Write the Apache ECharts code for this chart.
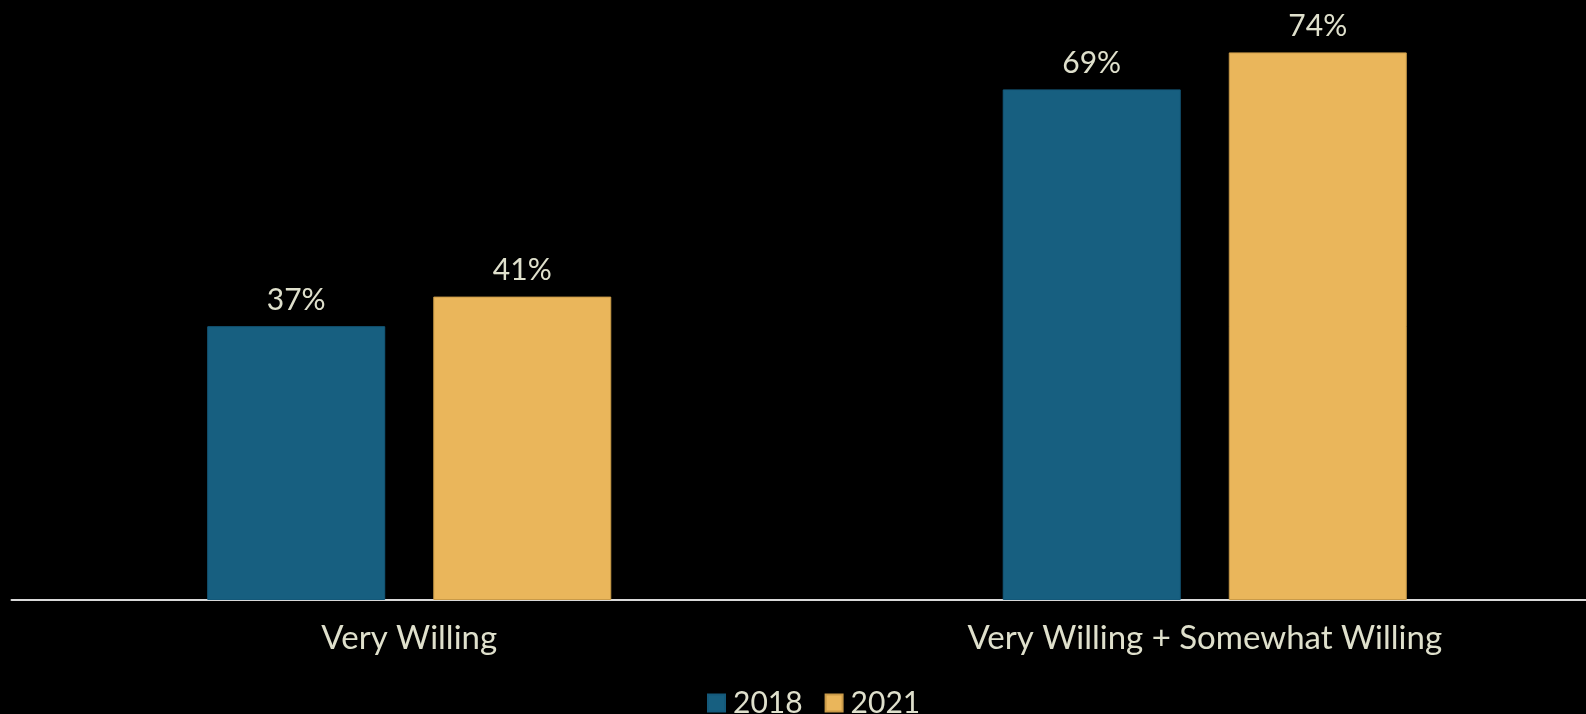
<!DOCTYPE html>
<html>
<head>
<meta charset="utf-8">
<script src="https://cdn.jsdelivr.net/npm/echarts@6/dist/echarts.min.js"></script>
<style>
  html, body { margin: 0; padding: 0; background: #000; }
  #chart { width: 1586px; height: 714px; }
</style>
</head>
<body>
<div id="chart"></div>
<script>
const categories = ['Very Willing', 'Very Willing + Somewhat Willing']
const seriesNames = ['2018', '2021']
const values2018 = [37, 69]
const values2021 = [41, 74]

const textColor = '#dfe0cc'
const fontFamily = 'Lato, sans-serif'

const chart = echarts.init(document.getElementById('chart'))

const label = {
    show: true,
    position: 'top',
    distance: 11,
    color: textColor,
    fontFamily: fontFamily,
    fontSize: 30,
    formatter: (p) => p.value + '%'
}

chart.setOption({
    backgroundColor: '#000',
    animation: false,
    textStyle: { fontFamily: fontFamily, color: textColor },
    legend: {
        data: seriesNames,
        left: 707,
        top: 688,
        padding: 0,
        itemWidth: 17,
        itemHeight: 17,
        itemGap: 22,
        icon: 'rect',
        textStyle: { color: textColor, fontSize: 30, fontFamily: fontFamily, padding: [0, 0, 0, 3] }
    },
    grid: {
        left: 11.5,
        width: 1591,
        top: 8,
        bottom: 114,
        containLabel: false,
        outerBoundsMode: 'none'
    },
    xAxis: {
        type: 'category',
        data: categories,
        axisLine: { show: true, lineStyle: { color: '#d9d9d9', width: 2 } },
        axisTick: { show: false },
        axisLabel: { color: textColor, fontSize: 33, fontFamily: fontFamily, margin: 22 }
    },
    yAxis: {
        type: 'value',
        min: 0,
        max: 80,
        show: false,
        splitLine: { show: false }
    },
    series: [
        {
            name: '2018',
            type: 'bar',
            data: values2018,
            barWidth: 178,
            barGap: '27%',
            itemStyle: { color: '#175f80', borderColor: '#14597a', borderWidth: 1 },
            label: label
        },
        {
            name: '2021',
            type: 'bar',
            data: values2021,
            barWidth: 178,
            itemStyle: { color: '#eab65b', borderColor: '#c99a48', borderWidth: 1 },
            label: label
        }
    ]
})
</script>
</body>
</html>
